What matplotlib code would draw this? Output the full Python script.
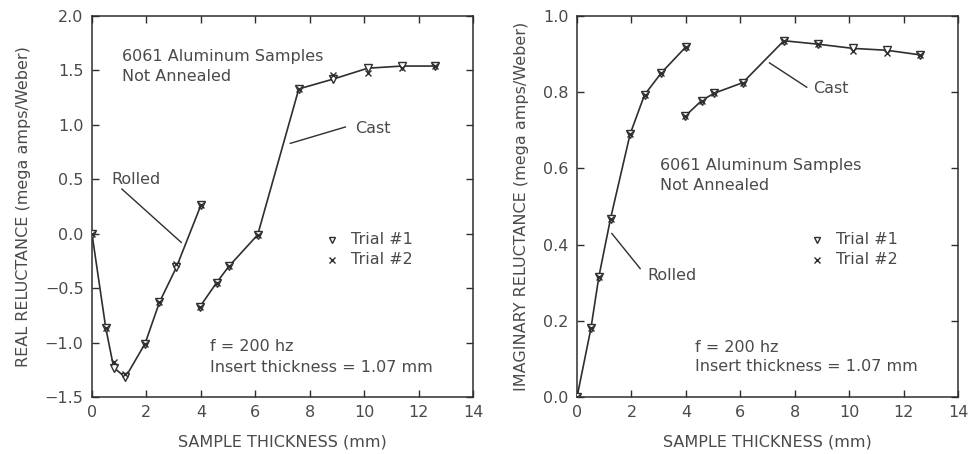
import matplotlib
matplotlib.use("Agg")
import matplotlib.pyplot as plt

# ---------------- data ----------------
rolled_x = [0.0, 0.51, 0.80, 1.23, 1.95, 2.48, 3.10, 4.00]
cast_x = [3.97, 4.58, 5.03, 6.09, 7.60, 8.86, 10.13, 11.39, 12.60]

real_rolled_t1 = [0.0, -0.87, -1.23, -1.32, -1.01, -0.63, -0.31, 0.26]
real_rolled_t2 = [0.0, -0.87, -1.18, -1.29, -1.01, -0.63, -0.28, 0.26]
real_cast_t1 = [-0.67, -0.45, -0.30, -0.01, 1.33, 1.42, 1.52, 1.54, 1.54]
real_cast_t2 = [-0.67, -0.45, -0.30, -0.01, 1.33, 1.46, 1.48, 1.52, 1.54]

imag_rolled_t1 = [0.0, 0.18, 0.315, 0.468, 0.69, 0.793, 0.851, 0.919]
imag_rolled_t2 = [0.0, 0.18, 0.315, 0.468, 0.69, 0.793, 0.851, 0.919]
imag_cast_t1 = [0.737, 0.778, 0.797, 0.825, 0.935, 0.926, 0.915, 0.910, 0.898]
imag_cast_t2 = [0.737, 0.778, 0.797, 0.825, 0.935, 0.926, 0.908, 0.902, 0.898]

x_ticks = [0, 2, 4, 6, 8, 10, 12, 14]
real_ticks = [-1.5, -1.0, -0.5, 0.0, 0.5, 1.0, 1.5, 2.0]
imag_ticks = [0.0, 0.2, 0.4, 0.6, 0.8, 1.0]

# ---------------- style ----------------
plt.rcParams['font.family'] = ['DejaVu Sans']
TXT = '#4a4a4a'
LINE = '#2e2e2e'
FS = 11.5

fig = plt.figure(figsize=(9.69, 4.54), dpi=100)
ax1 = fig.add_axes([0.0949, 0.1256, 0.3932, 0.8392])
ax2 = fig.add_axes([0.5955, 0.1256, 0.3932, 0.8392])


def style(ax, yticks, yfmt):
    ax.set_xlim(0, 14)
    ax.set_xticks(x_ticks)
    ax.set_xticklabels([str(v) for v in x_ticks])
    ax.set_ylim(yticks[0], yticks[-1])
    ax.set_yticks(yticks)
    ax.set_yticklabels([yfmt.format(v).replace('-', '\u2212') for v in yticks])
    ax.tick_params(direction='in', top=True, right=True, length=5, width=1.0,
                   colors=LINE, labelcolor=TXT, labelsize=FS, pad=6)
    for s in ax.spines.values():
        s.set_color(LINE)
        s.set_linewidth(1.1)
    ax.set_xlabel('SAMPLE THICKNESS (mm)', color=TXT, fontsize=FS, labelpad=10)


def series(ax, x, t1, t2):
    ax.plot(x, t1, color=LINE, lw=1.2, zorder=2)
    ax.plot(x, t1, linestyle='none', marker='v', ms=6, mfc='white', mec=LINE,
            mew=1.0, zorder=3)
    ax.plot(x, t2, linestyle='none', marker='x', ms=5, mec=LINE, mew=1.0, zorder=4)


# ---- left panel ----
style(ax1, real_ticks, '{:.1f}')
series(ax1, rolled_x, real_rolled_t1, real_rolled_t2)
series(ax1, cast_x, real_cast_t1, real_cast_t2)
ax1.set_ylabel('REAL RELUCTANCE (mega amps/Weber)', color=TXT, fontsize=FS, labelpad=10)
ax1.text(1.1, 1.40, '6061 Aluminum Samples\nNot Annealed', color=TXT, fontsize=FS,
         linespacing=1.45)
ax1.text(0.73, 0.5, 'Rolled', color=TXT, fontsize=FS, va='center')
ax1.plot([1.1, 3.28], [0.41, -0.08], color=LINE, lw=1.0)
ax1.text(9.66, 0.97, 'Cast', color=TXT, fontsize=FS, va='center')
ax1.plot([7.29, 9.31], [0.83, 0.98], color=LINE, lw=1.0)
ax1.plot([8.82], [-0.055], marker='v', ms=5, mfc='white', mec=LINE, mew=1.0)
ax1.plot([8.82], [-0.24], marker='x', ms=4, mec=LINE, mew=1.0)
ax1.text(9.5, -0.055, 'Trial #1', color=TXT, fontsize=FS, va='center')
ax1.text(9.5, -0.24, 'Trial #2', color=TXT, fontsize=FS, va='center')
ax1.text(4.33, -1.04, 'f = 200 hz', color=TXT, fontsize=FS, va='center')
ax1.text(4.33, -1.23, 'Insert thickness = 1.07 mm', color=TXT, fontsize=FS, va='center')

# ---- right panel ----
style(ax2, imag_ticks, '{:.1f}')
series(ax2, rolled_x, imag_rolled_t1, imag_rolled_t2)
series(ax2, cast_x, imag_cast_t1, imag_cast_t2)
ax2.set_ylabel('IMAGINARY RELUCTANCE (mega amps/Weber)', color=TXT, fontsize=FS, labelpad=10)
ax2.text(3.06, 0.582, '6061 Aluminum Samples\nNot Annealed', color=TXT, fontsize=FS,
         linespacing=1.45, va='center')
ax2.text(2.6, 0.32, 'Rolled', color=TXT, fontsize=FS, va='center')
ax2.plot([1.28, 2.32], [0.429, 0.337], color=LINE, lw=1.0)
ax2.text(8.68, 0.81, 'Cast', color=TXT, fontsize=FS, va='center')
ax2.plot([7.07, 8.44], [0.877, 0.813], color=LINE, lw=1.0)
ax2.plot([8.83], [0.413], marker='v', ms=5, mfc='white', mec=LINE, mew=1.0)
ax2.plot([8.83], [0.36], marker='x', ms=4, mec=LINE, mew=1.0)
ax2.text(9.5, 0.413, 'Trial #1', color=TXT, fontsize=FS, va='center')
ax2.text(9.5, 0.36, 'Trial #2', color=TXT, fontsize=FS, va='center')
ax2.text(4.34, 0.131, 'f = 200 hz', color=TXT, fontsize=FS, va='center')
ax2.text(4.34, 0.079, 'Insert thickness = 1.07 mm', color=TXT, fontsize=FS, va='center')

fig.savefig('out.png', dpi=100)
